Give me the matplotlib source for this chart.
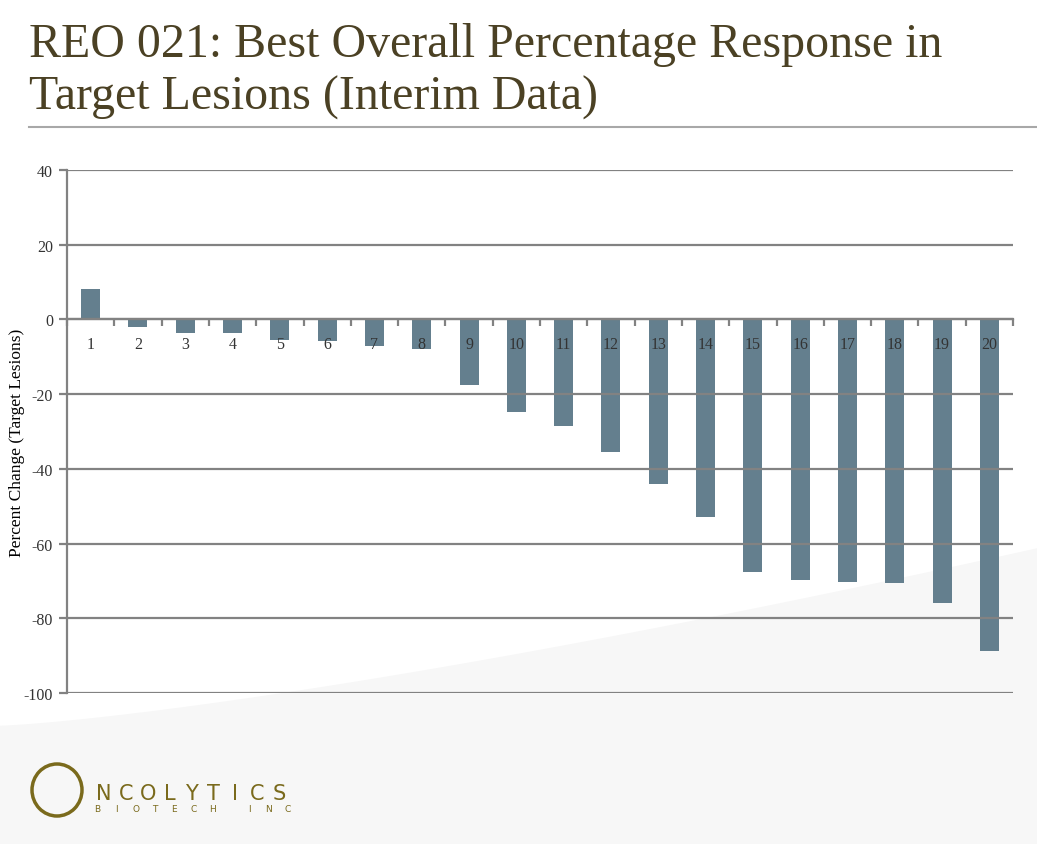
import numpy as np
import matplotlib
matplotlib.use('Agg')
import matplotlib.pyplot as plt
from matplotlib.patches import Ellipse

# Data
patients = [str(i) for i in range(1, 21)]
pct_change = [8.1, -2.0, -3.6, -3.6, -5.5, -5.7, -7.2, -7.9, -17.6, -24.8,
              -28.5, -35.6, -44.1, -52.9, -67.7, -69.8, -70.3, -70.6, -76.0, -88.8]
y_ticks = [40, 20, 0, -20, -40, -60, -80, -100]

bar_color = '#647f8e'
grid_color = '#828282'
title_color = '#4b4124'
logo_color = '#7a6a1c'
serif = ['Liberation Serif', 'DejaVu Serif']

W, H = 1037, 845
fig = plt.figure(figsize=(W / 100, H / 100), dpi=100)
fig.patch.set_facecolor('white')

# pale swoosh in the lower background
bg = fig.add_axes([0, 0, 1, 1], zorder=-5)
bg.axis('off')
bg.set_xlim(0, 1)
bg.set_ylim(0, 1)
xs = np.linspace(0, 1, 200)
top = 0.14 + 0.21 * xs ** 1.3
bg.fill_between(xs, 0, top, color='#f7f7f7', lw=0)

# title
fig.text(0.028, 0.973, 'REO 021: Best Overall Percentage Response in\nTarget Lesions (Interim Data)',
         family=serif, fontsize=34.5, color=title_color, va='top', ha='left', linespacing=1.25)
fig.add_artist(plt.Line2D([0.028, 1.0], [0.849, 0.849], color='#a8a8a8', lw=1.5))

ax = fig.add_axes([67 / W, 151 / H, 946 / W, 523 / H])
ax.patch.set_alpha(0)
ax.set_axisbelow(False)
x = np.arange(len(patients))
ax.bar(x, pct_change, width=0.4, color=bar_color, zorder=1)

ax.set_xlim(-0.5, len(patients) - 0.5)
ax.set_ylim(-100, 40)
ax.set_yticks(y_ticks)
ax.set_yticklabels([str(v) for v in y_ticks], family=serif, fontsize=11.5, color='#333333')
ax.yaxis.grid(True, color=grid_color, lw=1.6)
ax.tick_params(axis='y', length=6, width=1.6, color=grid_color, pad=4)

ax.spines['bottom'].set_position(('data', 0))
ax.spines['bottom'].set_color(grid_color)
ax.spines['bottom'].set_linewidth(1.6)
ax.spines['left'].set_color(grid_color)
ax.spines['left'].set_linewidth(1.6)
ax.spines['top'].set_visible(False)
ax.spines['right'].set_visible(False)

ax.set_xticks(x)
ax.set_xticklabels(patients, family=serif, fontsize=11.5, color='#333333')
ax.set_xticks(np.arange(-0.5, len(patients)), minor=True)
ax.tick_params(axis='x', which='major', length=0, pad=12)
ax.tick_params(axis='x', which='minor', length=5, width=1.6, color=grid_color, direction='out')

ax.set_ylabel('Percent Change (Target Lesions)', family=serif, fontsize=12.5, color='black')
ax.yaxis.set_label_coords(-42 / 946, 0.48)

# logo
fig.add_artist(Ellipse((57 / W, 1 - 791 / H), 50 / W, 52 / H, transform=fig.transFigure,
                       fill=False, ec=logo_color, lw=2.5))
for k, ch in enumerate('NCOLYTICS'):
    fig.text((104 + 21.9 * k) / W, 1 - 800 / H, ch, family=['DejaVu Sans'], fontsize=15,
             color=logo_color, va='baseline', ha='center')
for px, ch in zip([97, 116, 136, 155, 174, 194, 213, 249, 268, 288], 'BIOTECHINC'):
    fig.text(px / W, 1 - 812 / H, ch, family=['DejaVu Sans'], fontsize=6.5,
             color=logo_color, va='baseline', ha='center')

fig.savefig('out.png', dpi=100, facecolor='white')
